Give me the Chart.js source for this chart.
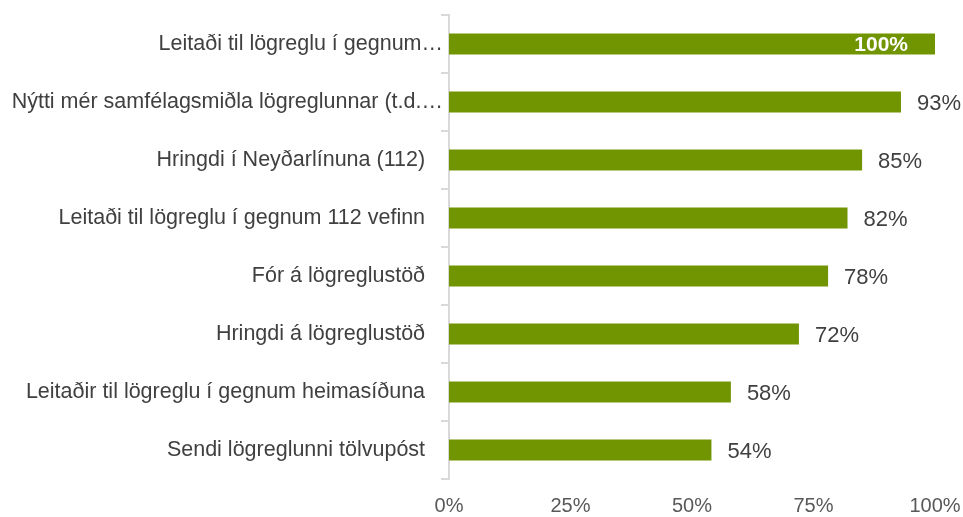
<!DOCTYPE html>
<html>
<head>
<meta charset="utf-8">
<script src="https://cdn.jsdelivr.net/npm/chart.js@4/dist/chart.umd.min.js"></script>
<style>
  html, body { margin: 0; padding: 0; background: #fff; }
  #wrap { width: 963px; height: 517px; }
</style>
</head>
<body>
<div id="wrap"><canvas id="chart"></canvas></div>
<script>
// categories and values
const categories = [
    'Leitaði til lögreglu í gegnum…',
    'Nýtti mér samfélagsmiðla lögreglunnar (t.d.…',
    'Hringdi í Neyðarlínuna (112)',
    'Leitaði til lögreglu í gegnum 112 vefinn',
    'Fór á lögreglustöð',
    'Hringdi á lögreglustöð',
    'Leitaðir til lögreglu í gegnum heimasíðuna',
    'Sendi lögreglunni tölvupóst'
];
const values = [100, 93, 85, 82, 78, 72, 58, 54];
const xTicks = [0, 25, 50, 75, 100];

const FONT = "'Liberation Sans Narrow', 'Arial Narrow', 'Liberation Sans', Arial, sans-serif";

// value labels next to bars; full bar gets its label inside in white
const valueLabels = {
    id: 'valueLabels',
    afterDatasetsDraw(chart) {
        const ctx = chart.ctx;
        const meta = chart.getDatasetMeta(0);
        ctx.save();
        ctx.textBaseline = 'middle';
        meta.data.forEach((bar, i) => {
            const v = values[i];
            const text = v + '%';
            if (v >= 100) {
                ctx.font = 'bold 21px ' + FONT;
                ctx.fillStyle = '#ffffff';
                ctx.textAlign = 'right';
                ctx.fillText(text, bar.x - 27, bar.y + 1);
            } else {
                ctx.font = '22px ' + FONT;
                ctx.fillStyle = '#404040';
                ctx.textAlign = 'left';
                ctx.fillText(text, bar.x + 16, bar.y + 2);
            }
        });
        ctx.restore();
    }
};

new Chart(document.getElementById('chart'), {
    type: 'bar',
    data: {
        labels: categories,
        datasets: [{
            data: values,
            backgroundColor: '#709500',
            borderWidth: 0,
            categoryPercentage: 0.72,
            barPercentage: 0.5
        }]
    },
    options: {
        indexAxis: 'y',
        responsive: true,
        maintainAspectRatio: false,
        animation: false,
        layout: { padding: { top: 15, right: 0, bottom: 0, left: 0 } },
        plugins: {
            legend: { display: false },
            tooltip: { enabled: false }
        },
        scales: {
            x: {
                min: 0,
                max: 100,
                afterBuildTicks: axis => { axis.ticks = xTicks.map(v => ({ value: v })); },
                afterFit: axis => {
                    axis.height = 38;
                    axis.paddingRight = 28;
                    axis.paddingLeft = 0;
                },
                grid: { display: false },
                border: { display: false },
                ticks: {
                    callback: v => v + '%',
                    color: '#595959',
                    font: { family: FONT, size: 20 },
                    padding: 7,
                    maxRotation: 0
                }
            },
            y: {
                afterFit: axis => { axis.width = 449; },
                grid: {
                    drawOnChartArea: false,
                    color: '#d9d9d9',
                    tickLength: 8,
                    lineWidth: 2
                },
                border: { color: '#d9d9d9', width: 2 },
                ticks: {
                    // labels that are not cut short sit a little further left
                    callback: function (v) {
                        const s = this.getLabelForValue(v);
                        return s.endsWith('…') ? s : s + '\u00A0\u00A0\u00A0';
                    },
                    color: '#404040',
                    font: { family: FONT, size: 21.5 },
                    padding: -2
                }
            }
        }
    },
    plugins: [valueLabels]
});
</script>
</body>
</html>
